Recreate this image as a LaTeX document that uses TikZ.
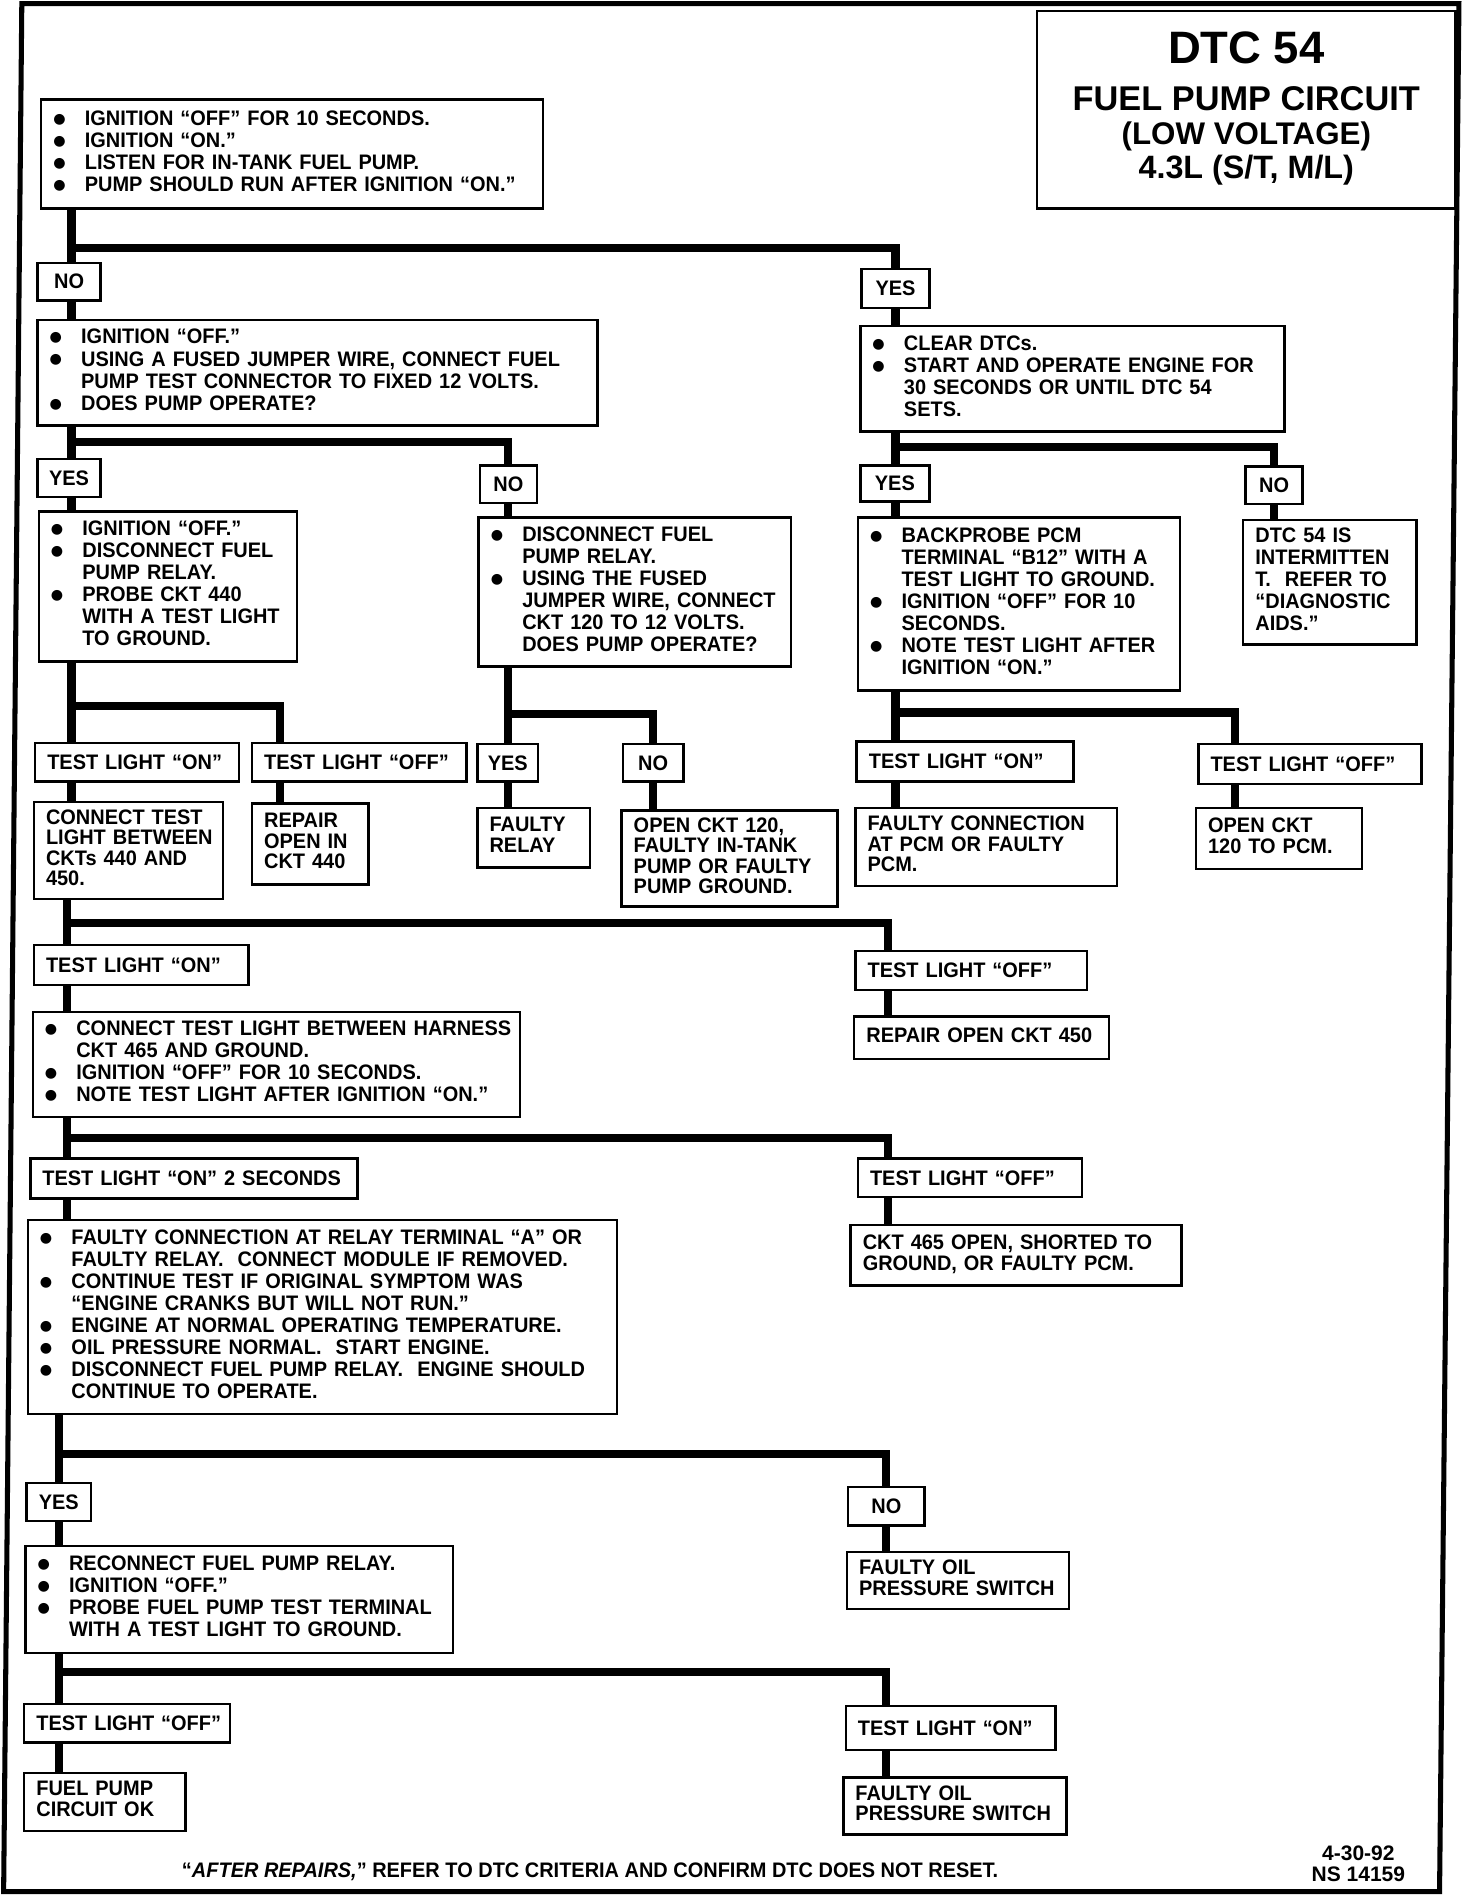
\documentclass[tikz,border=0pt]{standalone}
\usepackage{fontspec}
\usetikzlibrary{calc}
\newfontfamily\chartfont{Liberation Sans}[FakeStretch=0.95]
\newfontfamily\titlefont{Liberation Sans}
\newfontfamily\dotfont{DejaVu Sans}
\newcommand{\steplines}[1]{\begin{tabular}{@{}p{15.6pt}@{}l@{}}#1\end{tabular}}
\newcommand{\reslines}[1]{\begin{tabular}{@{}l@{}}#1\end{tabular}}
\newcommand{\stepdot}{\raisebox{1pt}{\dotfont\fontsize{7}{7}\selectfont ●}}

\begin{document}
\begin{tikzpicture}[
    x=0.6pt, y=-0.6pt,
    box/.style  = {draw, line width=1.2pt, fill=white, anchor=north west, align=left,
                   inner xsep=6pt, inner ysep=0pt,
                   font=\chartfont\bfseries\fontsize{10.4}{10.9}\selectfont},
    res/.style  = {box, font=\chartfont\bfseries\fontsize{10.4}{9.8}\selectfont},
    tag/.style  = {box},
    yn/.style   = {box, align=center, inner xsep=3pt},
    link/.style = {line width=4pt},
    ttl/.style  = {anchor=base, inner sep=0pt},
]
\useasboundingbox (0,0) rectangle (1215,1568);

% ---------------- frame and title ----------------
\draw[line width=2.5pt] (18,3) -- (1204,3) -- (1188,1561) -- (3,1561) -- cycle;
\node[draw, line width=1.2pt, anchor=north west, inner sep=0pt,
      minimum width=207pt, minimum height=97.8pt] (title) at (855,8) {};
\node[ttl, font=\titlefont\bfseries\fontsize{22.5}{24}\selectfont] (dtc) at ($(title.north)+(0,44)$) {DTC 54};
\node[ttl, font=\titlefont\bfseries\fontsize{17}{18}\selectfont] (circuit) at ($(title.north)+(0,83)$) {FUEL PUMP CIRCUIT};
\node[ttl, font=\titlefont\bfseries\fontsize{15.5}{17}\selectfont] (voltage) at ($(title.north)+(0,111)$) {(LOW VOLTAGE)};
\node[ttl, font=\titlefont\bfseries\fontsize{16}{17}\selectfont] (engine) at ($(title.north)+(0,139)$) {4.3L (S/T, M/L)};

% ---------------- left column ----------------
\node[box, text width=236.4pt, minimum height=54pt] (listen) at (33,81) {\steplines{%
  \stepdot & IGNITION “OFF” FOR 10 SECONDS.\\
  \stepdot & IGNITION “ON.”\\
  \stepdot & LISTEN FOR IN-TANK FUEL PUMP.\\
  \stepdot & PUMP SHOULD RUN AFTER IGNITION “ON.”}};
\node[yn, minimum width=31.2pt, minimum height=18.6pt] (no1) at (30,216) {NO};
\node[box, text width=265.2pt, minimum height=52.2pt] (jumper) at (30,263) {\steplines{%
  \stepdot & IGNITION “OFF.”\\
  \stepdot & USING A FUSED JUMPER WIRE, CONNECT FUEL\\
           & PUMP TEST CONNECTOR TO FIXED 12 VOLTS.\\
  \stepdot & DOES PUMP OPERATE?}};
\node[yn, minimum width=31.2pt, minimum height=18.6pt] (yes2) at (30,378) {YES};
\node[yn, minimum width=28.2pt, minimum height=18.6pt] (no2) at (395,383) {NO};
\node[box, text width=115.8pt, minimum height=74.4pt] (probe) at (31,421) {\steplines{%
  \stepdot & IGNITION “OFF.”\\
  \stepdot & DISCONNECT FUEL\\
           & PUMP RELAY.\\
  \stepdot & PROBE CKT 440\\
           & WITH A TEST LIGHT\\
           & TO GROUND.}};
\node[box, text width=142.8pt, minimum height=73.8pt] (relay) at (394,426) {\steplines{%
  \stepdot & DISCONNECT FUEL\\
           & PUMP RELAY.\\
  \stepdot & USING THE FUSED\\
           & JUMPER WIRE, CONNECT\\
           & CKT 120 TO 12 VOLTS.\\
           & DOES PUMP OPERATE?}};
\node[tag, text width=88.8pt, minimum height=19.2pt] (on1) at (28,612) {\mbox{TEST LIGHT “ON”}};
\node[tag, text width=94.2pt, minimum height=19.2pt] (off1) at (207,612) {\mbox{TEST LIGHT “OFF”}};
\node[yn, minimum width=30pt, minimum height=18.6pt] (yes3) at (393,613) {YES};
\node[yn, minimum width=30pt, minimum height=18.6pt] (no3) at (513,613) {NO};
\node[res, text width=81.6pt, minimum height=48pt] (between) at (27,661) {\reslines{CONNECT TEST\\LIGHT BETWEEN\\CKTs 440 AND\\450.}};
\node[res, text width=45.6pt, minimum height=40.2pt] (repair440) at (207,662) {\reslines{REPAIR\\OPEN IN\\CKT 440}};
\node[res, text width=43.8pt, minimum height=29.4pt] (faultyrelay) at (393,666) {\reslines{FAULTY\\RELAY}};
\node[res, text width=94.8pt, minimum height=47.4pt] (open120) at (512,668) {\reslines{OPEN CKT 120,\\FAULTY IN-TANK\\PUMP OR FAULTY\\PUMP GROUND.}};

% ---------------- right column ----------------
\node[yn, minimum width=33.6pt, minimum height=19.2pt] (yes1) at (710,221) {YES};
\node[box, text width=198pt, minimum height=52.2pt] (clear) at (709,268) {\steplines{%
  \stepdot & CLEAR DTCs.\\
  \stepdot & START AND OPERATE ENGINE FOR\\
           & 30 SECONDS OR UNTIL DTC 54\\
           & SETS.}};
\node[yn, minimum width=34.2pt, minimum height=18pt] (yes4) at (709,383) {YES};
\node[yn, minimum width=28.2pt, minimum height=18.6pt] (no4) at (1027,384) {NO};
\node[box, text width=147.6pt, minimum height=85.8pt] (backprobe) at (707,426) {\steplines{%
  \stepdot & BACKPROBE PCM\\
           & TERMINAL “B12” WITH A\\
           & TEST LIGHT TO GROUND.\\
  \stepdot & IGNITION “OFF” FOR 10\\
           & SECONDS.\\
  \stepdot & NOTE TEST LIGHT AFTER\\
           & IGNITION “ON.”}};
\node[box, text width=73.8pt, minimum height=61.8pt] (intermit) at (1025,428) {\reslines{DTC 54 IS\\INTERMITTEN\\T.~~REFER TO\\“DIAGNOSTIC\\AIDS.”}};
\node[tag, text width=95.4pt, minimum height=19.8pt] (on2) at (706,611) {\mbox{TEST LIGHT “ON”}};
\node[tag, text width=98.4pt, minimum height=19.8pt] (off2) at (988,613) {\mbox{TEST LIGHT “OFF”}};
\node[res, text width=117.6pt, minimum height=38.4pt] (pcmconn) at (705,666) {\reslines{FAULTY CONNECTION\\AT PCM OR FAULTY\\PCM.}};
\node[res, text width=70.2pt, minimum height=30pt] (open120pcm) at (986,666) {\reslines{OPEN CKT\\120 TO PCM.}};

% ---------------- middle part ----------------
\node[tag, text width=94.2pt, minimum height=19.8pt] (on3) at (27,779) {\mbox{TEST LIGHT “ON”}};
\node[box, text width=229.2pt, minimum height=52.2pt] (harness) at (26,834) {\steplines{%
  \stepdot & CONNECT TEST LIGHT BETWEEN HARNESS\\
           & CKT 465 AND GROUND.\\
  \stepdot & IGNITION “OFF” FOR 10 SECONDS.\\
  \stepdot & NOTE TEST LIGHT AFTER IGNITION “ON.”}};
\node[tag, text width=102.6pt, minimum height=19.2pt] (off3) at (705,784) {\mbox{TEST LIGHT “OFF”}};
\node[res, text width=114pt, minimum height=21pt] (repair450) at (704,838) {\reslines{REPAIR OPEN CKT 450}};
\node[tag, text width=150pt, minimum height=19.8pt] (on2s) at (24,955) {\mbox{TEST LIGHT “ON” 2 SECONDS}};
\node[tag, text width=99pt, minimum height=19.2pt] (off4) at (707,955) {\mbox{TEST LIGHT “OFF”}};
\node[box, text width=279.6pt, minimum height=96pt] (terminal) at (22,1006) {\steplines{%
  \stepdot & FAULTY CONNECTION AT RELAY TERMINAL “A” OR\\
           & FAULTY RELAY.~~CONNECT MODULE IF REMOVED.\\
  \stepdot & CONTINUE TEST IF ORIGINAL SYMPTOM WAS\\
           & “ENGINE CRANKS BUT WILL NOT RUN.”\\
  \stepdot & ENGINE AT NORMAL OPERATING TEMPERATURE.\\
  \stepdot & OIL PRESSURE NORMAL.~~START ENGINE.\\
  \stepdot & DISCONNECT FUEL PUMP RELAY.~~ENGINE SHOULD\\
           & CONTINUE TO OPERATE.}};
\node[res, text width=151.8pt, minimum height=30pt] (open465) at (701,1010) {\reslines{CKT 465 OPEN, SHORTED TO\\GROUND, OR FAULTY PCM.}};

% ---------------- bottom part ----------------
\node[yn, minimum width=31.8pt, minimum height=18.6pt] (yes5) at (21,1223) {YES};
\node[yn, minimum width=37.8pt, minimum height=19.2pt] (no5) at (699,1226) {NO};
\node[res, text width=97.8pt, minimum height=28.2pt] (oilsw1) at (698,1280) {\reslines{FAULTY OIL\\PRESSURE SWITCH}};
\node[box, text width=199.8pt, minimum height=52.8pt] (reconnect) at (20,1275) {\steplines{%
  \stepdot & RECONNECT FUEL PUMP RELAY.\\
  \stepdot & IGNITION “OFF.”\\
  \stepdot & PROBE FUEL PUMP TEST TERMINAL\\
           & WITH A TEST LIGHT TO GROUND.}};
\node[tag, text width=90pt, minimum height=19.2pt] (off5) at (19,1405) {\mbox{TEST LIGHT “OFF”}};
\node[tag, text width=91.8pt, minimum height=21.6pt] (on4) at (697,1407) {\mbox{TEST LIGHT “ON”}};
\node[res, text width=67.8pt, minimum height=28.8pt] (pumpok) at (19,1462) {\reslines{FUEL PUMP\\CIRCUIT OK}};
\node[res, text width=98.4pt, minimum height=28.2pt] (oilsw2) at (695,1466) {\reslines{FAULTY OIL\\PRESSURE SWITCH}};

\node[anchor=base, inner sep=0pt, font=\chartfont\bfseries\fontsize{10.4}{10.9}\selectfont] (note) at (487,1549)
  {“\textit{AFTER REPAIRS,}” REFER TO DTC CRITERIA AND CONFIRM DTC DOES NOT RESET.};
\node[anchor=base, inner sep=0pt, font=\titlefont\bfseries\fontsize{10.4}{10.9}\selectfont] (date) at (1121,1535) {4-30-92};
\node[anchor=base, inner sep=0pt, font=\titlefont\bfseries\fontsize{10.4}{10.9}\selectfont] (figno) at (1121,1553) {NS 14159};

% ---------------- connectors ----------------
\coordinate (colA) at (59,0);
\coordinate (colB) at (55,0);
\coordinate (colF) at (231,0);
\coordinate (colG) at (1019,0);
\coordinate (colH) at (733,0);
\coordinate (fork1) at (0,205);
\coordinate (fork2) at (0,365);
\coordinate (fork3) at (0,369);
\coordinate (fork4) at (0,583);
\coordinate (fork5) at (0,589);
\coordinate (fork6) at (0,588);
\coordinate (fork7) at (0,762);
\coordinate (fork8) at (0,939);
\coordinate (fork9) at (0,1200);
\coordinate (fork10) at (0,1380);

\draw[link] (listen.south -| colA) -- (no1.north -| colA);
\draw[link] (colA |- fork1) -| (yes1.north);
\draw[link] (no1.south -| colA) -- (jumper.north -| colA);
\draw[link] (jumper.south -| colA) -- (yes2.north -| colA);
\draw[link] (colA |- fork2) -| (no2.north);
\draw[link] (yes2.south -| colA) -- (probe.north -| colA);
\draw[link] (no2.south) -- (no2.south |- relay.north);
\draw[link] (probe.south -| colA) -- (on1.north -| colA);
\draw[link] (colA |- fork4) -| (off1.north -| colF);
\draw[link] (relay.south -| no2) -- (yes3.north -| no2);
\draw[link] (no2 |- fork5) -| (no3.north);
\draw[link] (on1.south -| colA) -- (between.north -| colA);
\draw[link] (off1.south -| colF) -- (repair440.north -| colF);
\draw[link] (yes3.south) -- (yes3.south |- faultyrelay.north);
\draw[link] (no3.south) -- (no3.south |- open120.north);

\draw[link] (yes1.south) -- (yes1.south |- clear.north);
\draw[link] (clear.south -| yes1) -- (yes4.north -| yes1);
\draw[link] (yes1 |- fork3) -| (no4.north);
\draw[link] (yes4.south -| yes1) -- (backprobe.north -| yes1);
\draw[link] (no4.south) -- (no4.south |- intermit.north);
\draw[link] (backprobe.south -| yes1) -- (on2.north -| yes1);
\draw[link] (yes1 |- fork6) -| (off2.north -| colG);
\draw[link] (on2.south -| yes1) -- (pcmconn.north -| yes1);
\draw[link] (off2.south -| colG) -- (open120pcm.north -| colG);

\draw[link] (between.south -| colB) -- (on3.north -| colB);
\draw[link] (colB |- fork7) -| (off3.north -| colH);
\draw[link] (on3.south -| colB) -- (harness.north -| colB);
\draw[link] (off3.south -| colH) -- (repair450.north -| colH);
\draw[link] (harness.south -| colB) -- (on2s.north -| colB);
\draw[link] (colB |- fork8) -| (off4.north -| colH);
\draw[link] (on2s.south -| colB) -- (terminal.north -| colB);
\draw[link] (off4.south -| colH) -- (open465.north -| colH);

\draw[link] (terminal.south -| yes5) -- (yes5.north);
\draw[link] (yes5 |- fork9) -| (no5.north);
\draw[link] (yes5.south) -- (yes5.south |- reconnect.north);
\draw[link] (no5.south) -- (no5.south |- oilsw1.north);
\draw[link] (reconnect.south -| yes5) -- (off5.north -| yes5);
\draw[link] (yes5 |- fork10) -| (on4.north -| no5);
\draw[link] (off5.south -| yes5) -- (pumpok.north -| yes5);
\draw[link] (on4.south -| no5) -- (oilsw2.north -| no5);

\end{tikzpicture}
\end{document}
